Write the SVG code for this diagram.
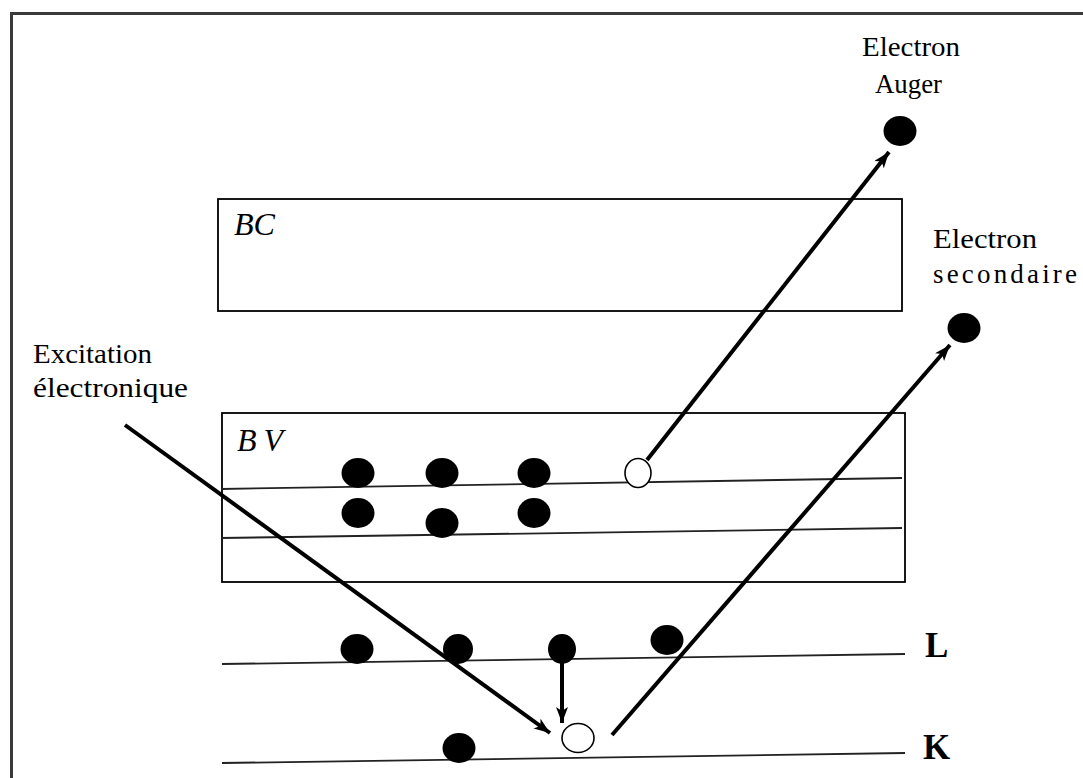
<svg xmlns="http://www.w3.org/2000/svg" width="1083" height="778" viewBox="0 0 1083 778">
  <defs>
    <marker id="head" markerUnits="userSpaceOnUse" markerWidth="20" markerHeight="16" refX="16" refY="6" orient="auto">
      <path d="M0,0 L16,6 L0,12 L4,6 Z" fill="#000"/>
    </marker>
    <style>
      .frame { fill: none; stroke: #3a3a3a; stroke-width: 3; }
      .band { fill: none; stroke: #000; stroke-width: 1.8; }
      .level { fill: none; stroke: #222; stroke-width: 1.8; }
      .arrow { fill: none; stroke: #000; stroke-width: 4; marker-end: url(#head); }
      .e { fill: #000; }
      .hole { fill: #fff; stroke: #000; stroke-width: 1.6; }
      .lbl { font-family: "Liberation Serif", "Times New Roman", serif; font-size: 27px; fill: #000; }
      .band-lbl { font-family: "Liberation Serif", "Times New Roman", serif; font-size: 32px; font-style: italic; fill: #000; }
      .shell { font-family: "Liberation Serif", "Times New Roman", serif; font-size: 35px; font-weight: bold; fill: #000; }
    </style>
  </defs>

  <rect width="1083" height="778" fill="#fff"/>
  <!-- outer frame -->
  <rect class="frame" x="11.5" y="13.5" width="1090" height="790"/>

  <!-- conduction band -->
  <g id="bc">
    <rect class="band" x="218" y="199" width="684" height="112"/>
    <text class="band-lbl" x="234" y="235" textLength="41" lengthAdjust="spacingAndGlyphs">BC</text>
  </g>

  <!-- valence band with its two sub-levels -->
  <g id="bv">
    <rect class="band" x="222" y="413" width="683" height="169"/>
    <text class="band-lbl" x="237" y="451" textLength="46" lengthAdjust="spacing">BV</text>
    <line class="level" x1="221" y1="489" x2="902" y2="478"/>
    <line class="level" x1="221" y1="538" x2="902" y2="528"/>
  </g>

  <!-- core levels -->
  <g id="level-L">
    <line class="level" x1="222" y1="664" x2="905" y2="654"/>
    <text class="shell" x="925" y="657">L</text>
  </g>
  <g id="level-K">
    <line class="level" x1="222" y1="763" x2="905" y2="753"/>
    <text class="shell" x="923" y="759">K</text>
  </g>

  <!-- electrons in the valence band -->
  <g id="bv-electrons">
    <ellipse class="e" cx="358" cy="473" rx="16.5" ry="15"/>
    <ellipse class="e" cx="442" cy="473" rx="16.5" ry="15"/>
    <ellipse class="e" cx="534" cy="473" rx="16.5" ry="15"/>
    <ellipse class="hole" cx="638" cy="473" rx="13" ry="14.5"/>
    <ellipse class="e" cx="358" cy="513" rx="16.5" ry="15"/>
    <ellipse class="e" cx="442" cy="523" rx="16.5" ry="15"/>
    <ellipse class="e" cx="534" cy="513" rx="16.5" ry="15"/>
  </g>

  <!-- electrons on the L level -->
  <g id="l-electrons">
    <ellipse class="e" cx="357" cy="649" rx="16.5" ry="15"/>
    <ellipse class="e" cx="458" cy="649" rx="15" ry="15"/>
    <ellipse class="e" cx="562" cy="649" rx="14" ry="15"/>
    <ellipse class="e" cx="667" cy="640" rx="16.5" ry="15"/>
  </g>

  <!-- K level: electron and vacancy -->
  <g id="k-electrons">
    <ellipse class="e" cx="459" cy="748" rx="16.5" ry="15"/>
    <ellipse class="hole" cx="578" cy="738" rx="16" ry="14.5"/>
  </g>

  <!-- emitted electrons -->
  <g id="auger">
    <ellipse class="e" cx="900" cy="131" rx="16.5" ry="15"/>
    <text class="lbl" x="862" y="56" textLength="98" lengthAdjust="spacingAndGlyphs">Electron</text>
    <text class="lbl" x="875" y="93" textLength="67" lengthAdjust="spacingAndGlyphs">Auger</text>
  </g>
  <g id="secondaire">
    <ellipse class="e" cx="964" cy="328" rx="16.5" ry="15"/>
    <text class="lbl" x="933" y="248" textLength="104" lengthAdjust="spacingAndGlyphs">Electron</text>
    <text class="lbl" x="933" y="283" textLength="144" lengthAdjust="spacing">secondaire</text>
  </g>
  <g id="excitation">
    <text class="lbl" x="33" y="363" textLength="119" lengthAdjust="spacingAndGlyphs">Excitation</text>
    <text class="lbl" x="33" y="397" textLength="155" lengthAdjust="spacingAndGlyphs">électronique</text>
  </g>

  <!-- transitions -->
  <g id="connectors">
    <line class="arrow" x1="125" y1="425" x2="550" y2="733"/>
    <line class="arrow" x1="562" y1="662" x2="562" y2="723"/>
    <line class="arrow" x1="612" y1="735" x2="950" y2="345"/>
    <line class="arrow" x1="647" y1="460" x2="889" y2="152"/>
  </g>
</svg>
